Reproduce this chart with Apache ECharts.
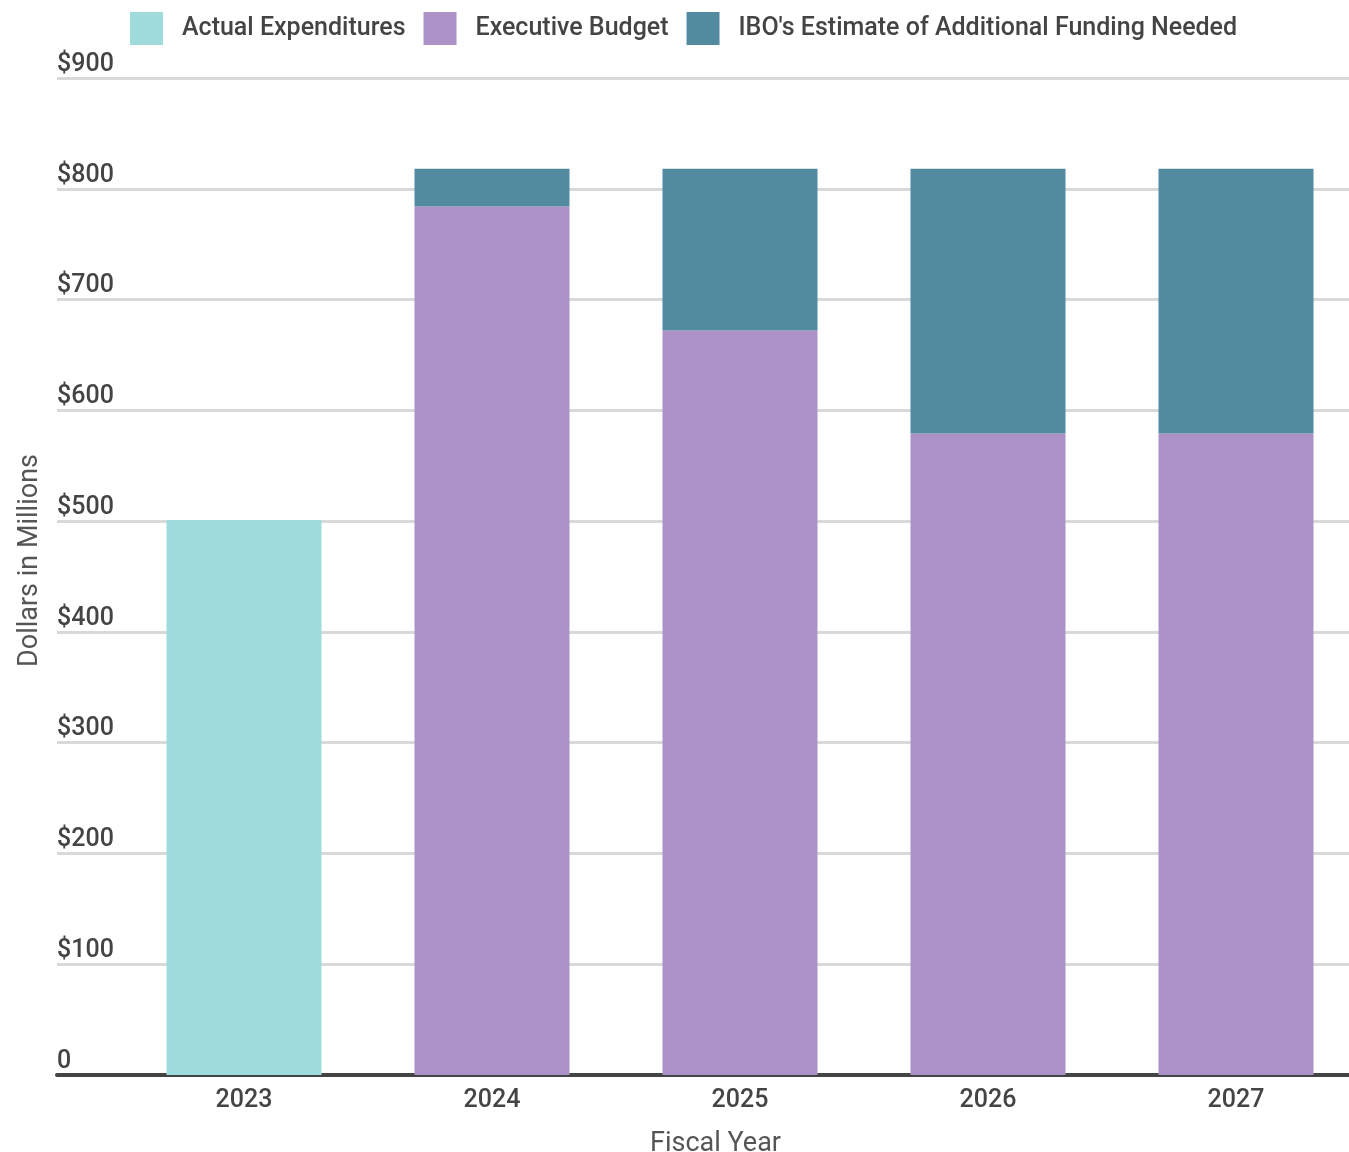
<!DOCTYPE html>
<html>
<head>
<meta charset="utf-8">
<script src="https://cdn.jsdelivr.net/npm/echarts@6/dist/echarts.min.js"></script>
<style>html,body{margin:0;padding:0;background:#fff;overflow:hidden}#c{width:1360px;height:1152px}</style>
</head>
<body>
<div id="c"></div>
<script>
const categories = ['2023', '2024', '2025', '2026', '2027'];
const actualExpenditures = [501, '-', '-', '-', '-'];
const executiveBudget = ['-', 784, 672, 579, 579];
const iboAdditional = ['-', 34, 146, 239, 239];
const yTicks = [0, 100, 200, 300, 400, 500, 600, 700, 800, 900];

const FONT = 'Roboto';
const FS = 25;
const chart = echarts.init(document.getElementById('c'), null, {renderer: 'canvas'});
chart.setOption({
  animation: false,
  textStyle: {fontFamily: FONT},
  legend: {
    left: 125, top: 7,
    itemWidth: 33, itemHeight: 33, itemGap: 18,
    icon: 'rect',
    textStyle: {fontFamily: FONT, fontSize: 25, fontWeight: 500, color: '#444', padding: [0, 0, 0, 14]},
    data: ['Actual Expenditures', 'Executive Budget', "IBO's Estimate of Additional Funding Needed"]
  },
  grid: [
    {left: 57, right: 11, top: 78, bottom: 77},
    {left: 120, right: 0, top: 78, bottom: 77}
  ],
  xAxis: [
    {gridIndex: 0, type: 'value', min: 0, max: 1, axisLine: {show: true, lineStyle: {color: '#444', width: 4}},
     axisTick: {show: false}, axisLabel: {show: false}, splitLine: {show: false}},
    {gridIndex: 1, type: 'category', data: categories, axisLine: {show: false}, axisTick: {show: false},
     axisLabel: {fontFamily: FONT, fontSize: FS, fontWeight: 500, color: '#444', margin: 13}}
  ],
  yAxis: [
    {gridIndex: 0, type: 'value', min: 0, max: 900, interval: 100,
     axisLine: {show: false}, axisTick: {show: false},
     axisLabel: {inside: true, margin: 0, verticalAlign: 'bottom', padding: [0, 0, 1, 0],
       fontFamily: FONT, fontSize: FS, fontWeight: 500, color: '#444',
       formatter: v => v === 0 ? '0' : '$' + v},
     splitLine: {lineStyle: {color: '#d9d9d9', width: 3}},
     name: 'Dollars in Millions', nameLocation: 'middle', nameGap: 13,
     nameTextStyle: {fontFamily: FONT, fontSize: 27, color: '#555', padding: [0, 0, 0, 32]}
    },
    {gridIndex: 1, type: 'value', min: 0, max: 900, interval: 100, show: false}
  ],
  graphic: [{
    type: 'text', left: 650, top: 1131,
    style: {text: 'Fiscal Year', font: '27px ' + FONT, fill: '#555'}
  }],
  series: [
    {name: 'Actual Expenditures', type: 'bar', xAxisIndex: 1, yAxisIndex: 1, stack: 'a',
     barWidth: 155, barGap: '-100%', data: actualExpenditures, itemStyle: {color: '#9edbda'}},
    {name: 'Executive Budget', type: 'bar', xAxisIndex: 1, yAxisIndex: 1, stack: 'b',
     barWidth: 155, barGap: '-100%', data: executiveBudget, itemStyle: {color: '#ad92c8'}},
    {name: "IBO's Estimate of Additional Funding Needed", type: 'bar', xAxisIndex: 1, yAxisIndex: 1, stack: 'b',
     barWidth: 155, barGap: '-100%', data: iboAdditional, itemStyle: {color: '#528ba0'}}
  ]
});
</script>
</body>
</html>
